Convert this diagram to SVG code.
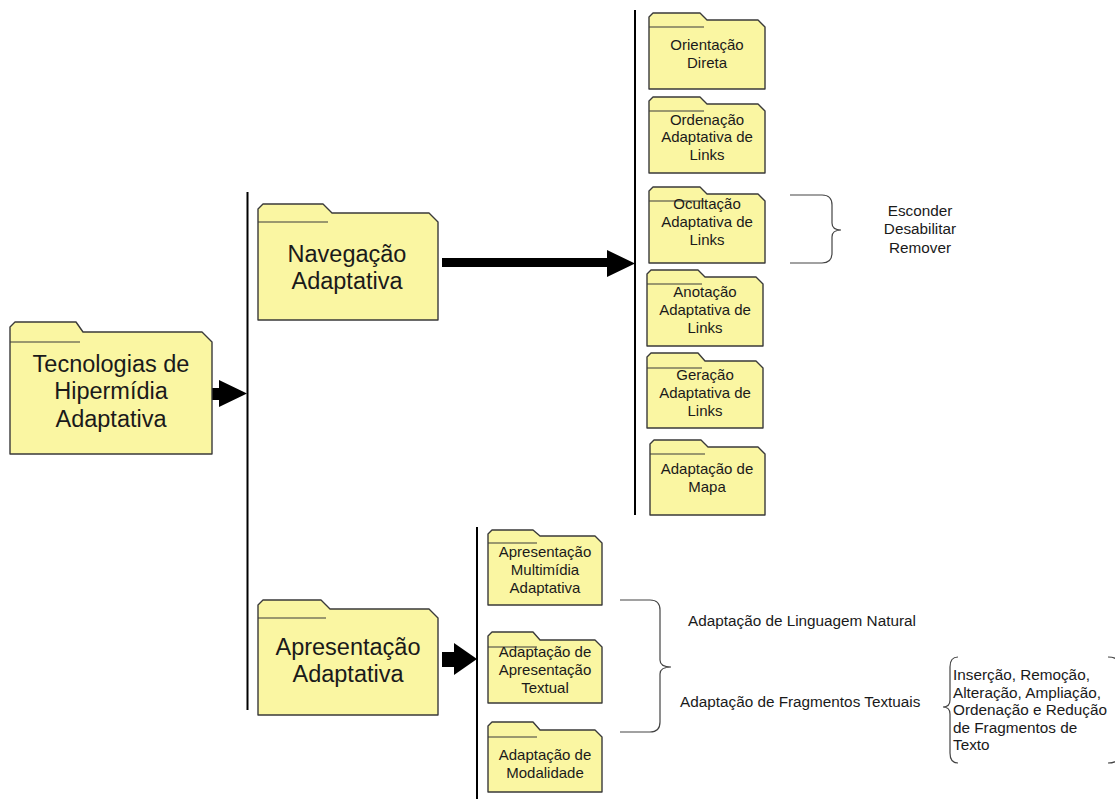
<svg xmlns="http://www.w3.org/2000/svg" width="1115" height="799" viewBox="0 0 1115 799">
<style>
.f{fill:#FAF6A2;stroke:#3a3a3a;stroke-width:1.4;stroke-linejoin:round}
.fl{fill:none;stroke:#3a3a3a;stroke-width:1.2}
.t{font-family:"Liberation Sans",Arial,sans-serif;fill:#1a1a1a;text-anchor:middle}
.big{font-size:23.5px}
.sm{font-size:15px}
.note{font-family:"Liberation Sans",Arial,sans-serif;fill:#1a1a1a;font-size:15.3px}
.vl{stroke:#000;stroke-width:2}
.ar{fill:#000}
.br{fill:none;stroke:#444;stroke-width:1.2}
</style>
<rect width="1115" height="799" fill="#fff"/>

<g id="connectors">
<line class="vl" x1="247.5" y1="192" x2="247.5" y2="710"/>
<line class="vl" x1="635" y1="10" x2="635" y2="515"/>
<line class="vl" x1="477" y1="527" x2="477" y2="799"/>
<polygon class="ar" points="212,388 219,388 219,380 247,393.5 219,407 219,400 212,400"/>
<polygon class="ar" points="442,258 607,258 607,250 635,263.5 607,277 607,267 442,267"/>
<polygon class="ar" points="442,652 454,652 454,643 477,659 454,675 454,667 442,667"/>
</g>

<g id="braces">
<path class="br" d="M790,195 L822,195 Q832,195 832,205 L832,223 Q832,230 841,230 Q832,230 832,237 L832,253 Q832,263 822,263 L790,263"/>
<path class="br" d="M620,600 L650,600 Q660,600 660,610 L660,660 Q660,667 671,667 Q660,667 660,674 L660,722 Q660,732 650,732 L620,732"/>
<path class="br" d="M958,657 Q950,657 950,667 L950,700 Q950,707 943,707 Q950,707 950,714 L950,753 Q950,763 958,763"/>
<path class="br" d="M1108,657 Q1120,657 1120,667 L1120,753 Q1120,763 1108,763"/>
</g>

<g id="n-tecnologias">
<path class="f" d="M10,342 L10,327 L15,322 L76,322 L83,332 L202,332 L212,342 L212,454 L10,454 Z"/>
<path class="fl" d="M10,342 L80,342"/>
<text class="t big"><tspan x="111" y="372">Tecnologias de</tspan><tspan x="111" y="399">Hipermídia</tspan><tspan x="111" y="427">Adaptativa</tspan></text>
</g>

<g id="n-navegacao">
<path class="f" d="M258,222 L258,209 L263,204 L323,204 L332,213 L429,213 L438,222 L438,320 L258,320 Z"/>
<path class="fl" d="M258,222 L328,222"/>
<text class="t big"><tspan x="347" y="262">Navegação</tspan><tspan x="347" y="289">Adaptativa</tspan></text>
</g>

<g id="n-apresentacao">
<path class="f" d="M258,618 L258,605 L263,600 L321,600 L330,609 L429,609 L438,618 L438,715 L258,715 Z"/>
<path class="fl" d="M258,618 L326,618"/>
<text class="t big"><tspan x="348" y="655">Apresentação</tspan><tspan x="348" y="682">Adaptativa</tspan></text>
</g>

<g id="n-orientacao">
<path class="f" d="M649,27 L649,17 L653,13 L700,13 L707,20 L758,20 L765,27 L765,89 L649,89 Z"/>
<path class="fl" d="M649,27 L704,27"/>
<text class="t sm"><tspan x="707" y="50">Orientação</tspan><tspan x="707" y="68">Direta</tspan></text>
</g>

<g id="n-ordenacao">
<path class="f" d="M649,111 L649,101 L653,97 L700,97 L707,104 L758,104 L765,111 L765,173 L649,173 Z"/>
<path class="fl" d="M649,111 L704,111"/>
<text class="t sm"><tspan x="707" y="125">Ordenação</tspan><tspan x="707" y="142">Adaptativa de</tspan><tspan x="707" y="160">Links</tspan></text>
</g>

<g id="n-ocultacao">
<path class="f" d="M649,201 L649,191 L653,187 L700,187 L707,194 L758,194 L765,201 L765,263 L649,263 Z"/>
<path class="fl" d="M649,201 L704,201"/>
<text class="t sm"><tspan x="707" y="209">Ocultação</tspan><tspan x="707" y="227">Adaptativa de</tspan><tspan x="707" y="245">Links</tspan></text>
</g>

<g id="n-anotacao">
<path class="f" d="M647,284 L647,274 L651,270 L698,270 L705,277 L756,277 L763,284 L763,346 L647,346 Z"/>
<path class="fl" d="M647,284 L702,284"/>
<text class="t sm"><tspan x="705" y="297">Anotação</tspan><tspan x="705" y="315">Adaptativa de</tspan><tspan x="705" y="333">Links</tspan></text>
</g>

<g id="n-geracao">
<path class="f" d="M647,368 L647,357 L651,353 L698,353 L705,361 L756,361 L763,368 L763,428 L647,428 Z"/>
<path class="fl" d="M647,368 L702,368"/>
<text class="t sm"><tspan x="705" y="380">Geração</tspan><tspan x="705" y="398">Adaptativa de</tspan><tspan x="705" y="416">Links</tspan></text>
</g>

<g id="n-mapa">
<path class="f" d="M650,454 L650,444 L654,440 L701,440 L708,447 L758,447 L765,454 L765,515 L650,515 Z"/>
<path class="fl" d="M650,454 L705,454"/>
<text class="t sm"><tspan x="707" y="474">Adaptação de</tspan><tspan x="707" y="492">Mapa</tspan></text>
</g>

<g id="n-multimidia">
<path class="f" d="M488,543 L488,534 L492,530 L533,530 L540,536 L595,536 L602,543 L602,605 L488,605 Z"/>
<path class="fl" d="M488,543 L537,543"/>
<text class="t sm"><tspan x="545" y="557">Apresentação</tspan><tspan x="545" y="575">Multimídia</tspan><tspan x="545" y="593">Adaptativa</tspan></text>
</g>

<g id="n-textual">
<path class="f" d="M488,647 L488,636 L492,632 L533,632 L540,640 L595,640 L602,647 L602,703 L488,703 Z"/>
<path class="fl" d="M488,647 L537,647"/>
<text class="t sm"><tspan x="545" y="657">Adaptação de</tspan><tspan x="545" y="675">Apresentação</tspan><tspan x="545" y="693">Textual</tspan></text>
</g>

<g id="n-modalidade">
<path class="f" d="M488,737 L488,726 L492,722 L533,722 L540,730 L595,730 L602,737 L602,792 L488,792 Z"/>
<path class="fl" d="M488,737 L537,737"/>
<text class="t sm"><tspan x="545" y="760">Adaptação de</tspan><tspan x="545" y="778">Modalidade</tspan></text>
</g>

<g id="l-ocultacao">
<text class="note" text-anchor="middle"><tspan x="920" y="216">Esconder</tspan><tspan x="920" y="234">Desabilitar</tspan><tspan x="920" y="253">Remover</tspan></text>
</g>

<g id="l-linguagem">
<text class="note" x="688" y="626">Adaptação de Linguagem Natural</text>
</g>

<g id="l-fragmentos">
<text class="note" x="680" y="707">Adaptação de Fragmentos Textuais</text>
</g>

<g id="l-operacoes">
<text class="note"><tspan x="953" y="680">Inserção, Remoção,</tspan><tspan x="953" y="698">Alteração, Ampliação,</tspan><tspan x="953" y="715">Ordenação e Redução</tspan><tspan x="953" y="733">de Fragmentos de</tspan><tspan x="953" y="750">Texto</tspan></text>
</g>
</svg>
